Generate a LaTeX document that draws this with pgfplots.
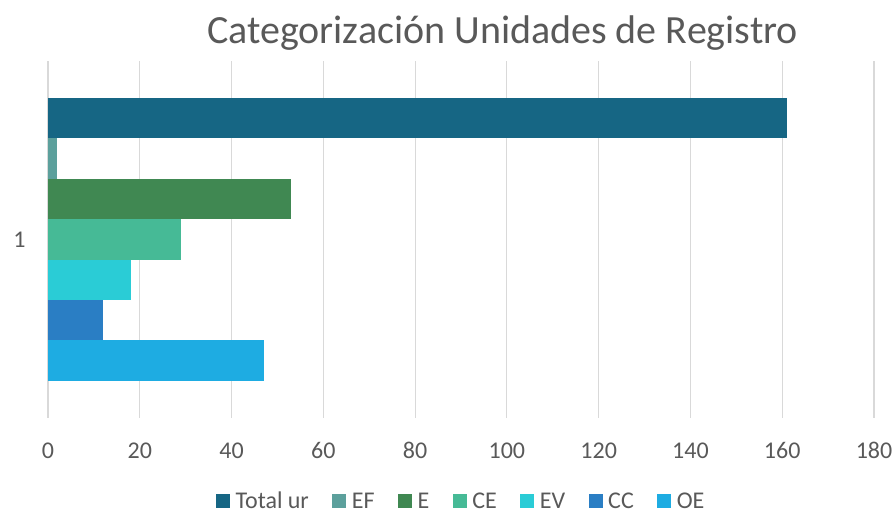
\documentclass[border=0pt]{standalone}
\usepackage{fontspec}
\setmainfont{Carlito}
\usepackage{pgfplots}
\pgfplotsset{compat=1.18}
\definecolor{ctotal}{RGB}{22,102,132}
\definecolor{cef}{RGB}{92,160,156}
\definecolor{ce}{RGB}{64,136,82}
\definecolor{cce}{RGB}{70,186,150}
\definecolor{cev}{RGB}{42,204,214}
\definecolor{ccc}{RGB}{42,126,196}
\definecolor{coe}{RGB}{30,172,226}
\definecolor{gridgray}{RGB}{217,217,217}
\definecolor{textgray}{RGB}{89,89,89}
\begin{document}
\begin{tikzpicture}
\useasboundingbox (0pt,0pt) rectangle (895pt,513pt);
\begin{axis}[
  at={(48pt,95pt)}, anchor=south west,
  scale only axis, width=826pt, height=357pt,
  xbar, bar width=40.4pt,
  xmin=0, xmax=180, ymin=0.5, ymax=1.5,
  xtick={0,20,...,180}, ytick={1}, yticklabels={1},
  xmajorgrids, major grid style={draw=gridgray, line width=1.2pt},
  axis line style={draw=none}, major tick length=0pt,
  /pgf/number format/assume math mode=true,
  tick label style={font=\fontsize{24}{28}\selectfont, text=textgray},
  xticklabel style={yshift=-21pt},
  yticklabel style={xshift=-19pt},
  legend style={at={(0.5,-0.233)}, anchor=center, draw=none, legend columns=-1,
    font=\fontsize{24}{28}\selectfont, text=textgray,
    nodes={inner sep=1.5pt},
    /tikz/every odd column/.append style={column sep=4pt},
    /tikz/every even column/.append style={column sep=22pt}},
  legend image code/.code={\fill[#1] (0pt,-7pt) rectangle (14pt,7pt);},
  title={Categorización Unidades de Registro},
  title style={at={(0.5503,1.0532)}, anchor=base, yshift=-8pt, font=\fontsize{40}{48}\selectfont, text=textgray},
  clip=false
]
\addplot[fill=ctotal, draw=none, bar shift=121.2pt] coordinates {(161,1)};
\addplot[fill=cef, draw=none, bar shift=80.8pt] coordinates {(2,1)};
\addplot[fill=ce, draw=none, bar shift=40.4pt] coordinates {(53,1)};
\addplot[fill=cce, draw=none, bar shift=0pt] coordinates {(29,1)};
\addplot[fill=cev, draw=none, bar shift=-40.4pt] coordinates {(18,1)};
\addplot[fill=ccc, draw=none, bar shift=-80.8pt] coordinates {(12,1)};
\addplot[fill=coe, draw=none, bar shift=-121.2pt] coordinates {(47,1)};
\legend{Total ur, EF, E, CE, EV, CC, OE}
\end{axis}
\end{tikzpicture}
\end{document}
